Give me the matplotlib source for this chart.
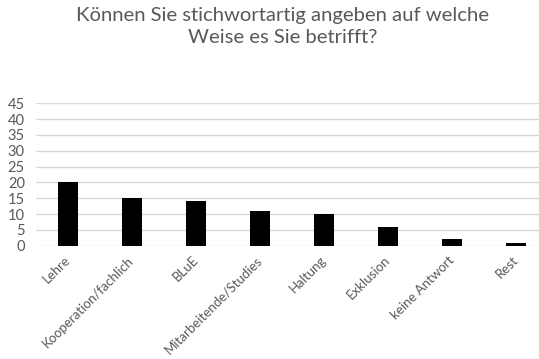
import numpy as np
import matplotlib
matplotlib.use('Agg')
import matplotlib.pyplot as plt

categories = ['Lehre', 'Kooperation/fachlich', 'BLuE', 'Mitarbeitende/Studies',
              'Haltung', 'Exklusion', 'keine Antwort', 'Rest']
values = [20, 15, 14, 11, 10, 6, 2, 1]
yticks = [0, 5, 10, 15, 20, 25, 30, 35, 40, 45]

title = 'Können Sie stichwortartig angeben auf welche\nWeise es Sie betrifft?'

plt.rcParams['font.family'] = ['Lato', 'DejaVu Sans']
grey = '#595959'

fig = plt.figure(figsize=(5.39, 3.59), dpi=100)
# axes runs a bit past the right edge, like the cropped original
ax = fig.add_axes([36 / 539, 1 - 245.7 / 359, 512 / 539, 142.4 / 359])

x = np.arange(len(categories))
ax.bar(x, values, width=0.31, color='black', zorder=3)

ax.set_xlim(-0.5, len(categories) - 0.5)
ax.set_ylim(0, 45)
ax.set_yticks(yticks)
ax.yaxis.grid(True, color='#d9d9d9', linewidth=1, zorder=0)
ax.set_axisbelow(True)
for s in ax.spines.values():
    s.set_visible(False)

ax.set_xticks(x)
ax.set_xticklabels(categories, rotation=45, ha='right', va='center',
                   rotation_mode='anchor', fontsize=9.5, color=grey)
ax.tick_params(axis='x', length=0, pad=9)
ax.tick_params(axis='y', length=0, pad=8, labelsize=10.5, labelcolor=grey)

fig.text(283 / 539, 1 - 7 / 359, title, ha='center', va='top',
         fontsize=14.6, color=grey, linespacing=1.35)

fig.savefig('out.png', dpi=100)
